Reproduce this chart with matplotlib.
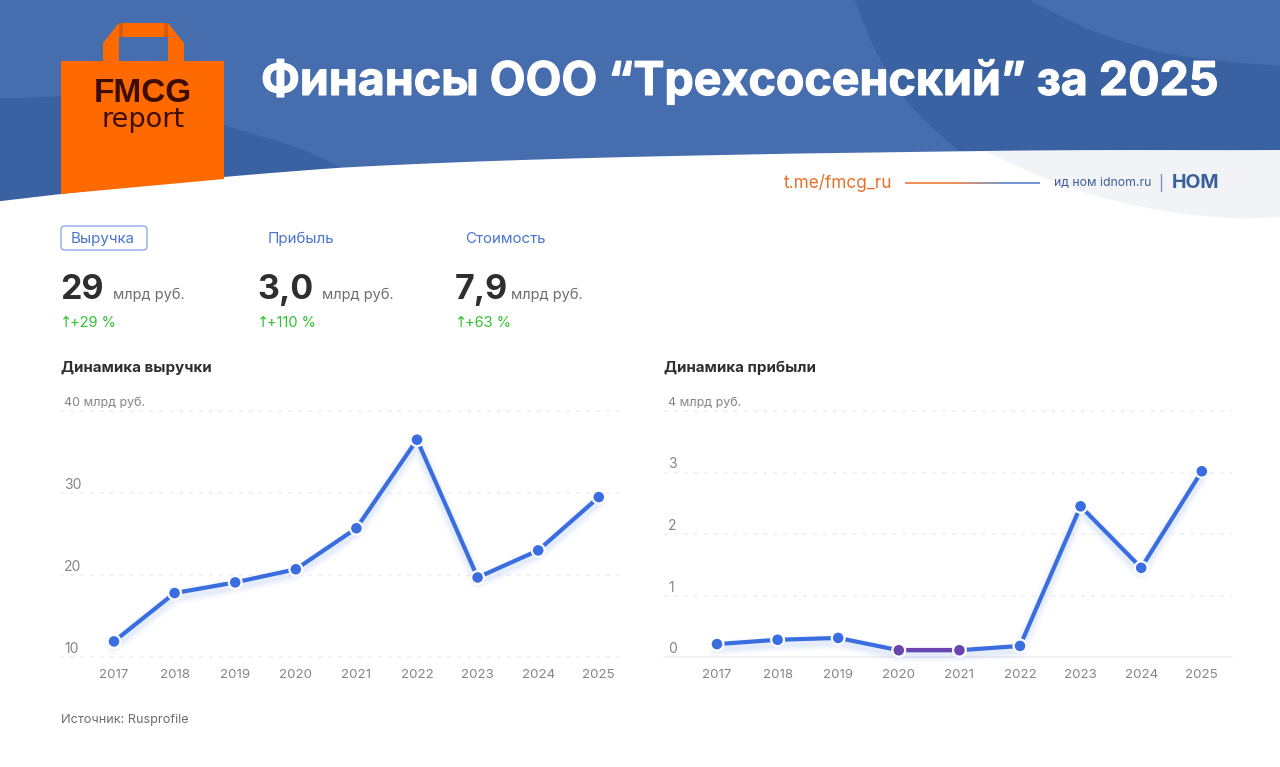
import numpy as np
import matplotlib
matplotlib.use("Agg")
import matplotlib.pyplot as plt
import matplotlib.patheffects as pe
from matplotlib.patches import Polygon, FancyBboxPatch, Rectangle
from matplotlib.collections import LineCollection
from matplotlib.transforms import ScaledTranslation

years = [2017, 2018, 2019, 2020, 2021, 2022, 2023, 2024, 2025]
revenue = [11.9, 17.8, 19.1, 20.7, 25.7, 36.5, 19.7, 23.0, 29.5]
profit = [0.21, 0.28, 0.31, 0.11, 0.11, 0.18, 2.45, 1.45, 3.02]
rev_ticks = [10, 20, 30, 40]
prof_ticks = [0, 1, 2, 3, 4]
kpi_names = ["Выручка", "Прибыль", "Стоимость"]
kpi_values = ["29", "3,0", "7,9"]
kpi_changes = ["+29 %", "+110 %", "+63 %"]

W, H = 1280, 767
FONT = "Inter"
plt.rcParams["font.family"] = [FONT, "DejaVu Sans"]
fig = plt.figure(figsize=(W / 100, H / 100), dpi=100, facecolor="white")
bg = fig.add_axes([0, 0, 1, 1])
bg.set_xlim(0, W)
bg.set_ylim(H, 0)
bg.axis("off")

BLUE = "#466EAE"
DARK = "#3A62A3"
LINE = "#3A6EE0"
PURPLE = "#6A45AE"


def poly(pts, color, z=1):
    bg.add_patch(Polygon(pts, closed=True, facecolor=color, edgecolor="none", zorder=z))


def smooth(xs, ys, n=200):
    xx = np.linspace(xs[0], xs[-1], n)
    coef = np.polyfit(xs, ys, min(len(xs) - 1, 5))
    return xx, np.interp(xx, xs, ys) * 0.35 + np.polyval(coef, xx) * 0.65


# header background
bg.add_patch(Rectangle((0, 0), W, 215, facecolor=BLUE, edgecolor="none", zorder=1))
xs, ys = smooth([0, 60, 150, 224, 290, 345], [98, 96, 104, 125, 145, 170])
poly(list(zip(xs, ys)) + [(345, 215), (0, 215)], DARK, 2)
xs, ys = smooth([855, 875, 910, 960, 1000], [0, 50, 105, 152, 175])
poly(list(zip(xs, ys)) + [(1280, 175), (1280, 0)], DARK, 2)
xs, ys = smooth([1030, 1090, 1160, 1230, 1280], [0, 30, 52, 62, 66])
poly(list(zip(xs, ys)) + [(1280, 0)], BLUE, 3)
xs, ys = smooth([0, 100, 224, 340, 480, 640, 800, 1000, 1280], [201, 190, 177, 167, 162, 157, 153, 151, 152])
poly(list(zip(xs, ys)) + [(1280, 225), (0, 225)], "white", 4)
xs, ys = smooth([985, 1040, 1100, 1170, 1230, 1280], [151, 176, 197, 212, 218, 217])
poly(list(zip(xs, ys)) + [(1280, 150)], "#F1F3F7", 5)

# bag
OR = "#FF6A00"
poly([(61, 61), (224, 61), (224, 179), (61, 194)], OR, 6)
poly([(103, 61), (103, 43), (119, 23), (168, 23), (184, 43), (184, 61), (168, 61), (168, 37), (119, 37), (119, 61)], OR, 6)
poly([(119, 23), (123, 23), (123, 37), (119, 37)], "#D95B05", 7)
poly([(164, 23), (168, 23), (168, 37), (164, 37)], "#D95B05", 7)
bg.text(142.5, 94, "FMCG", ha="center", va="center", fontsize=24, fontweight="bold",
        color="#3D0E00", family="Liberation Sans", zorder=8)
bg.text(143, 120, "report", ha="center", va="center", fontsize=19.5,
        color="#3D0E00", family="DejaVu Sans", zorder=8)

# title
title = bg.text(261, 82.5, "Финансы ООО “Трехсосенский” за 2025", ha="left", va="center",
                fontsize=33.5, fontweight="bold", color="white", zorder=8)
title.set_path_effects([pe.withStroke(linewidth=0.8, foreground="white")])

# contact strip
bg.text(784, 183, "t.me/fmcg_ru", ha="left", va="center", fontsize=12.4, color="#E8702A", zorder=8)
gx = np.linspace(905, 1040, 60)
segs = [[(gx[i], 182.5), (gx[i + 1], 182.5)] for i in range(59)]
c0, c1 = np.array(matplotlib.colors.to_rgb("#E8702A")), np.array(matplotlib.colors.to_rgb("#4A78C8"))
cols = [c0 + (c1 - c0) * min(1, max(0, (i / 59 - 0.35) / 0.4)) for i in range(59)]
bg.add_collection(LineCollection(segs, colors=cols, linewidths=1.1, zorder=8))
bg.text(1054, 183, "ид ном idnom.ru", ha="left", va="center", fontsize=8.8, color="#3F5F96", zorder=8)
bg.plot([1161, 1161], [174, 191], color="#7F95BC", lw=1, zorder=8)
bg.text(1172, 183, "НОМ", ha="left", va="center", fontsize=14, fontweight="bold", color="#3A6098", zorder=8)

# KPI blocks
kx = [60, 257, 455]
tx = [71, 268, 465]
ux = [113, 322, 511]
for i in range(3):
    bg.text(tx[i], 243, kpi_names[i], ha="left", va="baseline", fontsize=10.9, color="#4A74D0", zorder=8)
    bg.text(kx[i], 299, kpi_values[i], ha="left", va="baseline", fontsize=24.5, fontweight="bold", color="#2E2E2E", zorder=8)
    bg.text(ux[i], 299, "млрд руб.", ha="left", va="baseline", fontsize=10.5, color="#6E6E6E", zorder=8)
    bg.text(kx[i], 327, "↑", ha="left", va="baseline", fontsize=10.5, color="#2FC42F", family="DejaVu Sans", zorder=8)
    bg.text(kx[i] + 10, 327, kpi_changes[i], ha="left", va="baseline", fontsize=10.5, color="#2FC42F", zorder=8)
bg.add_patch(FancyBboxPatch((62, 227), 84, 22, boxstyle="round,pad=1,rounding_size=4",
                            facecolor="none", edgecolor="#8FAAE4", lw=1.0, zorder=8))

bg.text(61, 372, "Динамика выручки", ha="left", va="baseline", fontsize=10.85, fontweight="bold", color="#2E2E2E", zorder=8)
bg.text(664, 372, "Динамика прибыли", ha="left", va="baseline", fontsize=10.85, fontweight="bold", color="#2E2E2E", zorder=8)
bg.text(61, 723, "Источник: Rusprofile", ha="left", va="baseline", fontsize=9.15, color="#6E6E6E", zorder=8)


def chart(left, right, x0, values, ticks, top_label, solid_base):
    top, bottom = 411, 657
    ax = fig.add_axes([left / W, 1 - bottom / H, (right - left) / W, (bottom - top) / H])
    ax.patch.set_alpha(0)
    step = 60.6
    idx = np.arange(len(years))
    vals = np.array(values)
    ax.set_xlim((left - x0) / step, (right - x0) / step)
    ax.set_ylim(ticks[0], ticks[-1])
    for s in ax.spines.values():
        s.set_visible(False)
    ax.tick_params(length=0)
    ax.set_xticks(idx, [str(y) for y in years], fontsize=9.6, color="#858585")
    ax.tick_params(axis="x", pad=9)
    ax.set_yticks([])
    for k, t in enumerate(ticks):
        base = solid_base and k == 0
        ax.axhline(t, color="#ECEEF1", lw=1.1, ls="-" if base else (0, (2.5, 4)), zorder=1, clip_on=False)
        is_top = k == len(ticks) - 1
        label = top_label if is_top else str(t)
        ax.annotate(label, (0, t), xycoords=("axes fraction", "data"), xytext=(4, 8),
                    textcoords="offset pixels", fontsize=9 if is_top else 10,
                    color="#858585", ha="left", va="center")
    shift = ax.transData + ScaledTranslation(0, -3 / 72, fig.dpi_scale_trans)
    for lw, a in [(11, 0.03), (8, 0.04), (5, 0.06)]:
        ax.plot(idx, vals, color=LINE, lw=lw, alpha=a, zorder=2, clip_on=False, transform=shift)
    ax.plot(idx, vals, color=LINE, lw=3, zorder=3, clip_on=False, solid_joinstyle="round")
    low = [i for i, v in enumerate(values) if solid_base and v < 0.15]
    if low:
        ax.plot(idx[low], vals[low], color=PURPLE, lw=3, zorder=3.5, clip_on=False)
    colors = [PURPLE if i in low else LINE for i in idx]
    ax.scatter(idx, vals, s=85, c=colors, edgecolors="white", linewidths=1.6, zorder=4, clip_on=False)
    return ax


chart(60, 623, 114, revenue, rev_ticks, "40 млрд руб.", False)
chart(664, 1232, 717, profit, prof_ticks, "4 млрд руб.", True)

fig.savefig("out.png", dpi=100, facecolor="white")
